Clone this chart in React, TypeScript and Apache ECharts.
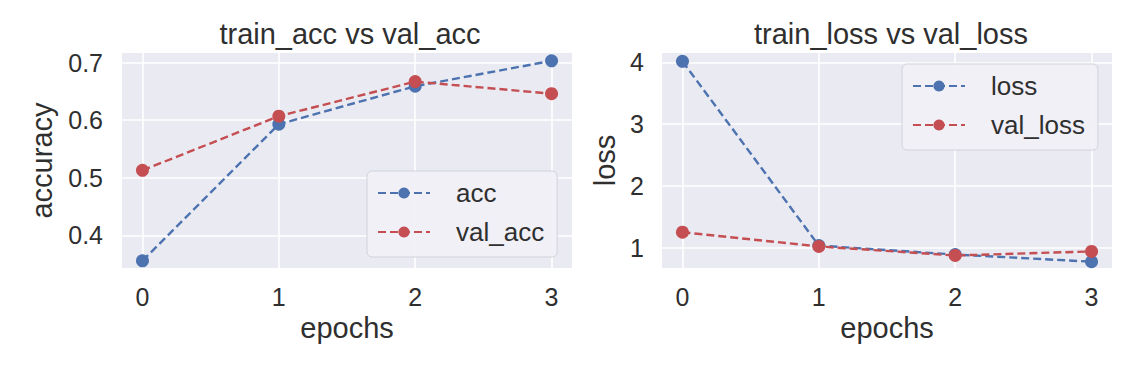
import React, { useEffect, useRef } from "react";
import * as echarts from "echarts";

const epochs = [0, 1, 2, 3];
const acc = [0.356, 0.593, 0.659, 0.703];
const valAcc = [0.513, 0.607, 0.667, 0.646];
const loss = [4.016, 1.04, 0.895, 0.78];
const valLoss = [1.256, 1.026, 0.88, 0.946];
const accTicks = [0.4, 0.5, 0.6, 0.7];
const lossTicks = [1, 2, 3, 4];
const epochTicks = [0, 1, 2, 3];

const BLUE = "#4c72b0";
const RED = "#c44e52";
const TEXT = "#2f2f2f";
const FONT = "Liberation Sans, Arial, sans-serif";

export default function App() {
  const ref = useRef<HTMLDivElement>(null);
  useEffect(() => {
    const chart = echarts.init(ref.current!, undefined, { renderer: "svg" });
    const xAxisBase = (gridIndex: number) => ({
      type: "value",
      gridIndex,
      min: -0.15,
      max: 3.15,
      name: "epochs",
      nameLocation: "middle",
      nameGap: 45,
      nameTextStyle: { fontSize: 29, color: TEXT, fontFamily: FONT },
      axisLine: { show: false },
      axisTick: { show: false, customValues: epochTicks },
      axisLabel: {
        customValues: epochTicks,
        fontSize: 25,
        color: TEXT,
        fontFamily: FONT,
        margin: 16,
      },
      splitLine: { show: true, lineStyle: { color: "#ffffff", width: 1.6 } },
    });
    const seriesBase = (name: string, data: number[], color: string, idx: number) => ({
      name,
      type: "line",
      xAxisIndex: idx,
      yAxisIndex: idx,
      data: epochs.map((e, i) => [e, data[i]]),
      symbol: "circle",
      symbolSize: 13,
      lineStyle: { color, width: 2.4, type: [8, 4] },
      itemStyle: { color },
      z: 3,
    });
    const legendBase = (data: string[], left: number, top: number) => ({
      data,
      orient: "vertical",
      left,
      top,
      itemWidth: 52,
      itemHeight: 14,
      itemGap: 13,
      padding: [9, 13, 12, 10],
      backgroundColor: "rgba(240,240,246,0.92)",
      borderColor: "#d2d2da",
      borderWidth: 1,
      borderRadius: 5,
      textStyle: { fontSize: 26, color: TEXT, fontFamily: FONT, padding: [0, 0, 0, 21] },
    });
    chart.setOption({
      animation: false,
      backgroundColor: "#ffffff",
      title: [
        {
          text: "train_acc vs val_acc",
          left: 345,
          top: 14,
          textAlign: "center",
          textStyle: { fontSize: 29, fontWeight: "normal", color: TEXT, fontFamily: FONT },
        },
        {
          text: "train_loss vs val_loss",
          left: 886,
          top: 14,
          textAlign: "center",
          textStyle: { fontSize: 29, fontWeight: "normal", color: TEXT, fontFamily: FONT },
        },
      ],
      grid: [
        { left: 122, top: 53, width: 450, height: 215, show: true, backgroundColor: "#eaeaf2", borderWidth: 0 },
        { left: 662, top: 53, width: 450, height: 215, show: true, backgroundColor: "#eaeaf2", borderWidth: 0 },
      ],
      xAxis: [xAxisBase(0), xAxisBase(1)],
      yAxis: [
        {
          type: "value",
          gridIndex: 0,
          min: 0.3436,
          max: 0.7166,
          name: "accuracy",
          nameLocation: "middle",
          nameGap: 66,
          nameTextStyle: { fontSize: 29, color: TEXT, fontFamily: FONT },
          axisLine: { show: false },
          axisTick: { show: false, customValues: accTicks },
          axisLabel: {
            customValues: accTicks,
            fontSize: 25,
            color: TEXT,
            fontFamily: FONT,
            margin: 19,
            formatter: (v: number) => v.toFixed(1),
          },
          splitLine: { show: true, lineStyle: { color: "#ffffff", width: 1.6 } },
        },
        {
          type: "value",
          gridIndex: 1,
          min: 0.678,
          max: 4.15,
          name: "loss",
          nameLocation: "middle",
          nameGap: 43,
          nameTextStyle: { fontSize: 29, color: TEXT, fontFamily: FONT },
          axisLine: { show: false },
          axisTick: { show: false, customValues: lossTicks },
          axisLabel: {
            customValues: lossTicks,
            fontSize: 25,
            color: TEXT,
            fontFamily: FONT,
            margin: 18,
          },
          splitLine: { show: true, lineStyle: { color: "#ffffff", width: 1.6 } },
        },
      ],
      legend: [
        legendBase(["acc", "val_acc"], 367, 171),
        legendBase(["loss", "val_loss"], 902, 64),
      ],
      series: [
        seriesBase("acc", acc, BLUE, 0),
        seriesBase("val_acc", valAcc, RED, 0),
        seriesBase("loss", loss, BLUE, 1),
        seriesBase("val_loss", valLoss, RED, 1),
      ],
    });
    return () => chart.dispose();
  }, []);
  return (
    <div
      ref={ref}
      style={{ position: "fixed", left: 0, top: 0, width: 1148, height: 374 }}
    />
  );
}
